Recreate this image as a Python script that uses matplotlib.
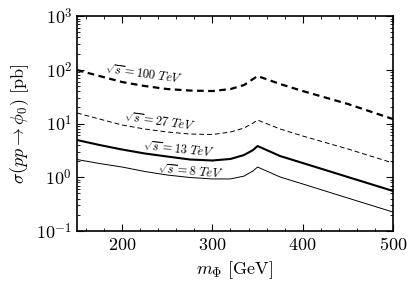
import matplotlib

matplotlib.use("Agg")
import matplotlib.pyplot as plt
from matplotlib.ticker import MultipleLocator, LogLocator, NullFormatter, FuncFormatter
import numpy as np

plt.rcParams["mathtext.fontset"] = "cm"
plt.rcParams["font.family"] = "serif"
plt.rcParams["font.serif"] = ["DejaVu Serif"]

# cross sections [pb]
mass = [150, 175, 200, 225, 250, 275, 300, 320, 335, 345, 350, 375, 400, 450, 500]
xs_100 = [99, 76.5, 59.2, 49.9, 43.8, 41.1, 40.2, 43.8, 52.0, 67.3, 76.5, 54.3, 40.2, 23.1, 12.1]
xs_27 = [15.7, 12.1, 9.38, 7.90, 6.95, 6.38, 6.24, 6.95, 8.24, 10.2, 11.6, 7.90, 5.85, 3.36, 1.84]
xs_13 = [4.93, 3.98, 3.28, 2.77, 2.43, 2.14, 2.05, 2.19, 2.59, 3.21, 3.81, 2.48, 1.84, 1.01, 0.555]
xs_8 = [2.14, 1.80, 1.55, 1.28, 1.10, 0.99, 0.93, 0.93, 1.05, 1.31, 1.55, 1.01, 0.75, 0.41, 0.225]

labels = [
    (r"$\sqrt{s}=100\ TeV$", 224, 82, -8),
    (r"$\sqrt{s}=27\ TeV$", 241, 10.4, -8),
    (r"$\sqrt{s}=13\ TeV$", 262, 3.2, -6),
    (r"$\sqrt{s}=8\ TeV$", 276, 1.25, -5),
]

fig = plt.figure(figsize=(4.15, 2.92), dpi=100)
ax = fig.add_axes([0.1855, 0.209, 0.7615, 0.736])

ax.plot(mass, xs_100, color="black", lw=1.6, ls=(0, (3, 2)))
ax.plot(mass, xs_27, color="black", lw=0.7, ls=(0, (5, 3)))
ax.plot(mass, xs_13, color="black", lw=1.5)
ax.plot(mass, xs_8, color="black", lw=0.7)

for text, x, y, rot in labels:
    ax.text(x, y, text, fontsize=9, rotation=rot, ha="center", va="center")

ax.set_yscale("log")
ax.set_xlim(150, 500)
ax.set_ylim(0.1, 1000)
ax.xaxis.set_major_locator(MultipleLocator(100))
ax.xaxis.set_minor_locator(MultipleLocator(20))
ax.yaxis.set_major_locator(LogLocator(base=10, numticks=10))
ax.yaxis.set_minor_locator(LogLocator(base=10, subs=range(2, 10), numticks=20))
ax.yaxis.set_major_formatter(FuncFormatter(lambda v, _: r"$10^{%d}$" % round(np.log10(v))))
ax.yaxis.set_minor_formatter(NullFormatter())
ax.set_xticks([200, 300, 400, 500])
ax.set_xticklabels([r"$200$", r"$300$", r"$400$", r"$500$"])
ax.tick_params(which="both", direction="in", top=True, right=True, labelsize=13)
ax.tick_params(which="major", length=5, width=0.8)
ax.tick_params(which="minor", length=2.5, width=0.6)
for s in ax.spines.values():
    s.set_linewidth(1.2)

ax.set_xlabel(r"$m_\Phi\ [\mathrm{GeV}]$", fontsize=13)
ax.set_ylabel(r"$\sigma(pp\to\phi_0)\ [\mathrm{pb}]$", fontsize=13)

fig.savefig("out.png", dpi=100)
